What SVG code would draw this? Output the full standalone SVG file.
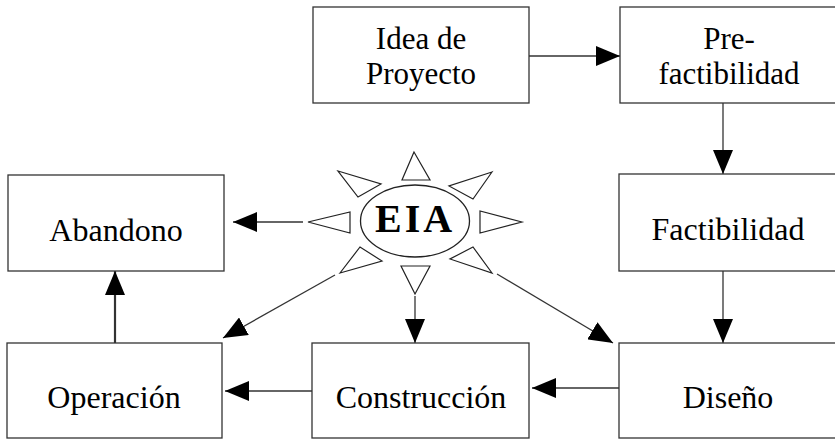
<svg xmlns="http://www.w3.org/2000/svg" width="835" height="439" viewBox="0 0 835 439">
<style>
.box{fill:#fff;stroke:#333;stroke-width:1.3}
.lbl{font-family:"Liberation Serif","Times New Roman",serif;font-size:32px;fill:#000;text-anchor:middle}
.two{font-size:31px}
.con{fill:none;stroke:#333;stroke-width:1.3}
.ray{fill:#fff;stroke:#222;stroke-width:1.2}
</style>
<defs>
<marker id="ah" markerUnits="userSpaceOnUse" markerWidth="24" markerHeight="20" refX="24" refY="10" orient="auto">
<path d="M0,0 L24,10 L0,20 Z" fill="#000"/>
</marker>
</defs>
<rect width="835" height="439" fill="#fff"/>
<g id="connectors">
<line class="con" x1="529" y1="56" x2="620" y2="56" marker-end="url(#ah)"/>
<line class="con" x1="723" y1="103" x2="723" y2="174" marker-end="url(#ah)"/>
<line class="con" x1="723" y1="271" x2="723" y2="343" marker-end="url(#ah)"/>
<line class="con" x1="619" y1="388" x2="532" y2="388" marker-end="url(#ah)"/>
<line class="con" x1="312" y1="391" x2="225" y2="391" marker-end="url(#ah)"/>
<line class="con" x1="115" y1="343" x2="115" y2="271" style="stroke-width:2.2" marker-end="url(#ah)"/>
<line class="con" x1="303" y1="222" x2="233" y2="222" marker-end="url(#ah)"/>
<line class="con" x1="335" y1="275" x2="223" y2="338" marker-end="url(#ah)"/>
<line class="con" x1="415" y1="296" x2="415" y2="343" marker-end="url(#ah)"/>
<line class="con" x1="497" y1="274" x2="613" y2="343" marker-end="url(#ah)"/>
</g>
<g id="idea">
<rect class="box" x="313" y="7" width="216" height="96"/>
<text class="lbl two" x="421" y="49">Idea de</text>
<text class="lbl two" x="421" y="84">Proyecto</text>
</g>
<g id="prefactibilidad">
<rect class="box" x="620" y="7" width="218" height="96"/>
<text class="lbl two" x="729" y="49">Pre-</text>
<text class="lbl two" x="729" y="84">factibilidad</text>
</g>
<g id="factibilidad">
<rect class="box" x="619" y="174" width="219" height="97"/>
<text class="lbl" x="728" y="240">Factibilidad</text>
</g>
<g id="diseno">
<rect class="box" x="619" y="343" width="219" height="95"/>
<text class="lbl" x="728" y="408">Diseño</text>
</g>
<g id="construccion">
<rect class="box" x="312" y="343" width="217" height="95"/>
<text class="lbl" x="421" y="408">Construcción</text>
</g>
<g id="operacion">
<rect class="box" x="7" y="343" width="215" height="95"/>
<text class="lbl" x="114" y="408">Operación</text>
</g>
<g id="abandono">
<rect class="box" x="8" y="175" width="216" height="96"/>
<text class="lbl" x="116" y="241">Abandono</text>
</g>
<g id="eia">
<polygon class="ray" points="414,152 402,180 430,180"/>
<polygon class="ray" points="401,266 430,266 415,294"/>
<polygon class="ray" points="308,222 350,212 350,233"/>
<polygon class="ray" points="522,222 480,211 480,233"/>
<polygon class="ray" points="338,171 381,184 358,197"/>
<polygon class="ray" points="492,172 449,186 473,199"/>
<polygon class="ray" points="340,273 360,247 382,261"/>
<polygon class="ray" points="492,273 473,247 450,259"/>
<ellipse cx="415" cy="221" rx="54.5" ry="36" fill="#fff" stroke="#222" stroke-width="1.3"/>
<text x="375" y="232" style="font-family:'Liberation Serif','Times New Roman',serif;font-size:40px;font-weight:bold;letter-spacing:3px" fill="#000">EIA</text>
</g>
</svg>
